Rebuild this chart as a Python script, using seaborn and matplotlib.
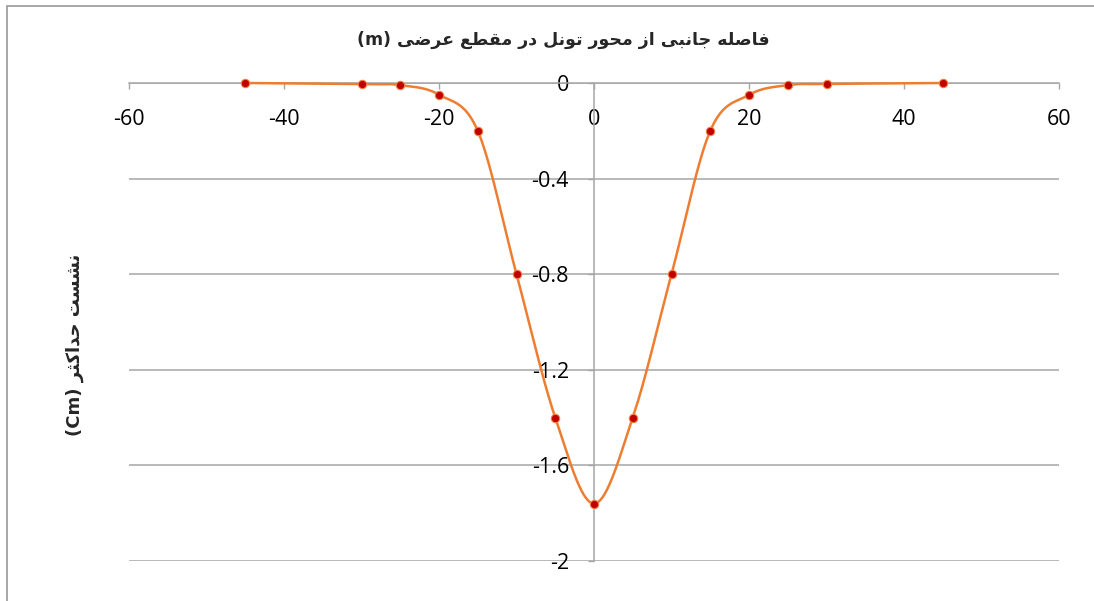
import numpy as np
import matplotlib
matplotlib.use("Agg")
import matplotlib.pyplot as plt
import seaborn as sns
from matplotlib.patches import Rectangle

# data
distance = [-45, -30, -25, -20, -15, -10, -5, 0, 5, 10, 15, 20, 25, 30, 45]
settlement = [0.0, -0.005, -0.009, -0.049, -0.2, -0.8, -1.4, -1.76, -1.4, -0.8, -0.2, -0.05, -0.009, -0.004, 0.0]
x_ticks = [-60, -40, -20, 0, 20, 40, 60]
y_ticks = [0, -0.4, -0.8, -1.2, -1.6, -2]
y_labels = ["0", "-0.4", "-0.8", "-1.2", "-1.6", "-2"]
title_fa = "فاصله جانبی از محور تونل در مقطع عرضی"
ylabel_fa = "نشست حداکثر"

# presentation forms: isolated, final, initial, medial
FORMS = {
    'ا': ('\uFE8D', '\uFE8E', None, None),
    'ب': ('\uFE8F', '\uFE90', '\uFE91', '\uFE92'),
    'ت': ('\uFE95', '\uFE96', '\uFE97', '\uFE98'),
    'ث': ('\uFE99', '\uFE9A', '\uFE9B', '\uFE9C'),
    'ج': ('\uFE9D', '\uFE9E', '\uFE9F', '\uFEA0'),
    'ح': ('\uFEA1', '\uFEA2', '\uFEA3', '\uFEA4'),
    'د': ('\uFEA9', '\uFEAA', None, None),
    'ر': ('\uFEAD', '\uFEAE', None, None),
    'ز': ('\uFEAF', '\uFEB0', None, None),
    'س': ('\uFEB1', '\uFEB2', '\uFEB3', '\uFEB4'),
    'ش': ('\uFEB5', '\uFEB6', '\uFEB7', '\uFEB8'),
    'ص': ('\uFEB9', '\uFEBA', '\uFEBB', '\uFEBC'),
    'ض': ('\uFEBD', '\uFEBE', '\uFEBF', '\uFEC0'),
    'ط': ('\uFEC1', '\uFEC2', '\uFEC3', '\uFEC4'),
    'ع': ('\uFEC9', '\uFECA', '\uFECB', '\uFECC'),
    'ف': ('\uFED1', '\uFED2', '\uFED3', '\uFED4'),
    'ق': ('\uFED5', '\uFED6', '\uFED7', '\uFED8'),
    'ل': ('\uFEDD', '\uFEDE', '\uFEDF', '\uFEE0'),
    'م': ('\uFEE1', '\uFEE2', '\uFEE3', '\uFEE4'),
    'ن': ('\uFEE5', '\uFEE6', '\uFEE7', '\uFEE8'),
    'ه': ('\uFEE9', '\uFEEA', '\uFEEB', '\uFEEC'),
    'و': ('\uFEED', '\uFEEE', None, None),
    'ی': ('\uFBFC', '\uFBFD', '\uFBFE', '\uFBFF'),
    'ک': ('\uFB8E', '\uFB8F', '\uFB90', '\uFB91'),
}


def dual(c):
    return c in FORMS and FORMS[c][2] is not None


def shape_word(w):
    out = []
    for i, c in enumerate(w):
        if c not in FORMS:
            out.append(c)
            continue
        prev_join = i > 0 and dual(w[i - 1])
        next_join = dual(c) and i + 1 < len(w) and w[i + 1] in FORMS
        if prev_join and next_join:
            out.append(FORMS[c][3])
        elif next_join:
            out.append(FORMS[c][2])
        elif prev_join:
            out.append(FORMS[c][1])
        else:
            out.append(FORMS[c][0])
    return ''.join(out)


def rtl(text):
    words = [shape_word(w)[::-1] for w in text.split(' ')]
    return ' '.join(words[::-1])


def smooth(xs, ys, n=30):
    # bezier smoothing like the spreadsheet "smoothed line"
    p = np.column_stack([xs, ys]).astype(float)
    p = np.vstack([p[0], p, p[-1]])
    pts = []
    t = np.linspace(0, 1, n)[:, None]
    for i in range(1, len(p) - 2):
        p0, p1, p2, p3 = p[i - 1], p[i], p[i + 1], p[i + 2]
        c1 = p1 + (p2 - p0) / 6
        c2 = p2 - (p3 - p1) / 6
        seg = (1 - t) ** 3 * p1 + 3 * (1 - t) ** 2 * t * c1 + 3 * (1 - t) * t ** 2 * c2 + t ** 3 * p2
        pts.append(seg if i == 1 else seg[1:])
    pts = np.vstack(pts)
    return pts[:, 0], pts[:, 1]


sns.set_style("white")
plt.rcParams['font.family'] = ['Open Sans', 'DejaVu Sans']

fig = plt.figure(figsize=(10.94, 6.01), dpi=100)
ax = fig.add_axes([129 / 1094, 1 - 561 / 601, 930 / 1094, 478 / 601])

grey = '#A6A6A6'
ax.set_xlim(-60, 60)
ax.set_ylim(-2, 0)
ax.set_yticks(y_ticks)
ax.set_yticklabels(y_labels)
ax.set_xticks(x_ticks)
ax.set_xticklabels([str(v) for v in x_ticks])
ax.yaxis.grid(True, color=grey, lw=1.1)
ax.xaxis.grid(False)

for s in ['top', 'right']:
    ax.spines[s].set_visible(False)
ax.spines['bottom'].set_position(('data', 0))
ax.spines['left'].set_position(('data', 0))
for s in ['bottom', 'left']:
    ax.spines[s].set_color(grey)
    ax.spines[s].set_linewidth(1.1)

ax.tick_params(axis='x', direction='out', length=4.5, width=1, color=grey,
               pad=14, labelsize=15.5, labelcolor='black', bottom=True)
ax.tick_params(axis='y', direction='out', length=4, width=1, color=grey,
               pad=14, labelsize=15.5, labelcolor='black', left=True)

cx, cy = smooth(distance, settlement)
sns.lineplot(x=cx, y=cy, sort=False, estimator=None, color='#ED7D31', lw=1.8,
             ax=ax, clip_on=False, zorder=4)
sns.scatterplot(x=distance, y=settlement, color='#C00000', edgecolor='#F08040',
                linewidth=0.8, s=36, ax=ax, clip_on=False, zorder=5)
ax.set_xlabel('')
ax.set_ylabel('')

fig.text(563 / 1094, 1 - 40 / 601, '(m) ' + rtl(title_fa), ha='center', va='center',
         fontsize=12.5, fontweight='bold', family=['DejaVu Sans'])
fig.text(75 / 1094, 1 - 345 / 601, '(Cm) ' + rtl(ylabel_fa), ha='center', va='center',
         rotation=90, fontsize=13, fontweight='bold', family=['DejaVu Sans'])

fig.add_artist(Rectangle((7 / 1094, -0.5), 2, 0.5 + 1 - 6 / 601, transform=fig.transFigure,
                         fill=False, edgecolor='#A0A0A0', lw=1.3))

fig.savefig('out.png', dpi=100)
